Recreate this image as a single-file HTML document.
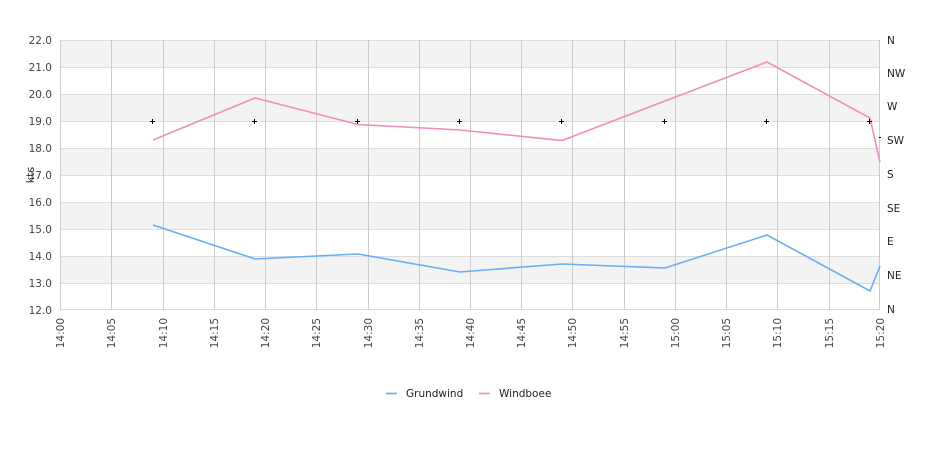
<!DOCTYPE html>
<html><head><style>body{margin:0;background:#fff}svg{display:block;font-family:"DejaVu Sans","Liberation Sans",sans-serif}</style></head>
<body>
<svg width="940" height="450" xmlns="http://www.w3.org/2000/svg">
<rect x="60" y="40" width="820" height="270" fill="#fff"/>
<g fill="#f3f3f3">
<rect x="60" y="40" width="820" height="27"/><rect x="60" y="94" width="820" height="27"/><rect x="60" y="148" width="820" height="27"/><rect x="60" y="202" width="820" height="27"/><rect x="60" y="256" width="820" height="27"/>
</g>
<g stroke="#dddddd" stroke-width="1">
<line x1="60" y1="40.5" x2="880" y2="40.5"/><line x1="60" y1="67.5" x2="880" y2="67.5"/><line x1="60" y1="94.5" x2="880" y2="94.5"/><line x1="60" y1="121.5" x2="880" y2="121.5"/><line x1="60" y1="148.5" x2="880" y2="148.5"/><line x1="60" y1="175.5" x2="880" y2="175.5"/><line x1="60" y1="202.5" x2="880" y2="202.5"/><line x1="60" y1="229.5" x2="880" y2="229.5"/><line x1="60" y1="256.5" x2="880" y2="256.5"/><line x1="60" y1="283.5" x2="880" y2="283.5"/><line x1="60" y1="309.5" x2="880" y2="309.5"/>
</g>
<g stroke="#cccccc" stroke-width="1">
<line x1="60.5" y1="40" x2="60.5" y2="310"/><line x1="111.5" y1="40" x2="111.5" y2="310"/><line x1="163.5" y1="40" x2="163.5" y2="310"/><line x1="214.5" y1="40" x2="214.5" y2="310"/><line x1="265.5" y1="40" x2="265.5" y2="310"/><line x1="316.5" y1="40" x2="316.5" y2="310"/><line x1="368.5" y1="40" x2="368.5" y2="310"/><line x1="419.5" y1="40" x2="419.5" y2="310"/><line x1="470.5" y1="40" x2="470.5" y2="310"/><line x1="521.5" y1="40" x2="521.5" y2="310"/><line x1="572.5" y1="40" x2="572.5" y2="310"/><line x1="624.5" y1="40" x2="624.5" y2="310"/><line x1="675.5" y1="40" x2="675.5" y2="310"/><line x1="726.5" y1="40" x2="726.5" y2="310"/><line x1="777.5" y1="40" x2="777.5" y2="310"/><line x1="829.5" y1="40" x2="829.5" y2="310"/><line x1="879.5" y1="40" x2="879.5" y2="310"/>
</g>
<g font-size="10.5" fill="#444" text-anchor="end">
<text x="52" y="44">22.0</text><text x="52" y="71">21.0</text><text x="52" y="98">20.0</text><text x="52" y="125">19.0</text><text x="52" y="152">18.0</text><text x="52" y="179">17.0</text><text x="52" y="206">16.0</text><text x="52" y="233">15.0</text><text x="52" y="260">14.0</text><text x="52" y="287">13.0</text><text x="52" y="314">12.0</text>
</g>
<text x="0" y="0" font-size="11" fill="#333" transform="translate(34,175) rotate(-90)" text-anchor="middle">kts</text>
<g font-size="10.5" fill="#222">
<text x="887" y="44">N</text><text x="887" y="77">NW</text><text x="887" y="110">W</text><text x="887" y="144">SW</text><text x="887" y="178">S</text><text x="887" y="212">SE</text><text x="887" y="245">E</text><text x="887" y="279">NE</text><text x="887" y="313">N</text>
</g>
<g font-size="10.5" fill="#444" text-anchor="end">
<text transform="translate(64,318) rotate(-90)">14:00</text>
<text transform="translate(115,318) rotate(-90)">14:05</text>
<text transform="translate(167,318) rotate(-90)">14:10</text>
<text transform="translate(218,318) rotate(-90)">14:15</text>
<text transform="translate(269,318) rotate(-90)">14:20</text>
<text transform="translate(320,318) rotate(-90)">14:25</text>
<text transform="translate(372,318) rotate(-90)">14:30</text>
<text transform="translate(423,318) rotate(-90)">14:35</text>
<text transform="translate(474,318) rotate(-90)">14:40</text>
<text transform="translate(525,318) rotate(-90)">14:45</text>
<text transform="translate(576,318) rotate(-90)">14:50</text>
<text transform="translate(628,318) rotate(-90)">14:55</text>
<text transform="translate(679,318) rotate(-90)">15:00</text>
<text transform="translate(730,318) rotate(-90)">15:05</text>
<text transform="translate(781,318) rotate(-90)">15:10</text>
<text transform="translate(833,318) rotate(-90)">15:15</text>
<text transform="translate(884,318) rotate(-90)">15:20</text>
</g>
<polyline fill="none" stroke="#6aaef0" stroke-width="1.6" points="153,225 255,259 358,254 460,272 562,264 665,268 767,235 870,291 880,266"/>
<polyline fill="none" stroke="#f28cc0" stroke-width="1.6" points="153,140 255,98 358,124.5 460,130 562,140.5 665,101 767,62 870,118 880,162"/>
<g stroke="#000" stroke-width="1">
<path d="M150,121.5h5M152.5,119v5M252,121.5h5M254.5,119v5M355,121.5h5M357.5,119v5M457,121.5h5M459.5,119v5M559,121.5h5M561.5,119v5M662,121.5h5M664.5,119v5M764,121.5h5M766.5,119v5M867,121.5h5M869.5,119v5M879,137.5h2"/>
</g>
<line x1="386" y1="393.5" x2="397" y2="393.5" stroke="#6aaef0" stroke-width="1.6"/>
<text x="406" y="397" font-size="10.5" fill="#222">Grundwind</text>
<line x1="479" y1="393.5" x2="490" y2="393.5" stroke="#f28cc0" stroke-width="1.6"/>
<text x="499" y="397" font-size="10.5" fill="#222">Windboee</text>
</svg>
</body></html>
